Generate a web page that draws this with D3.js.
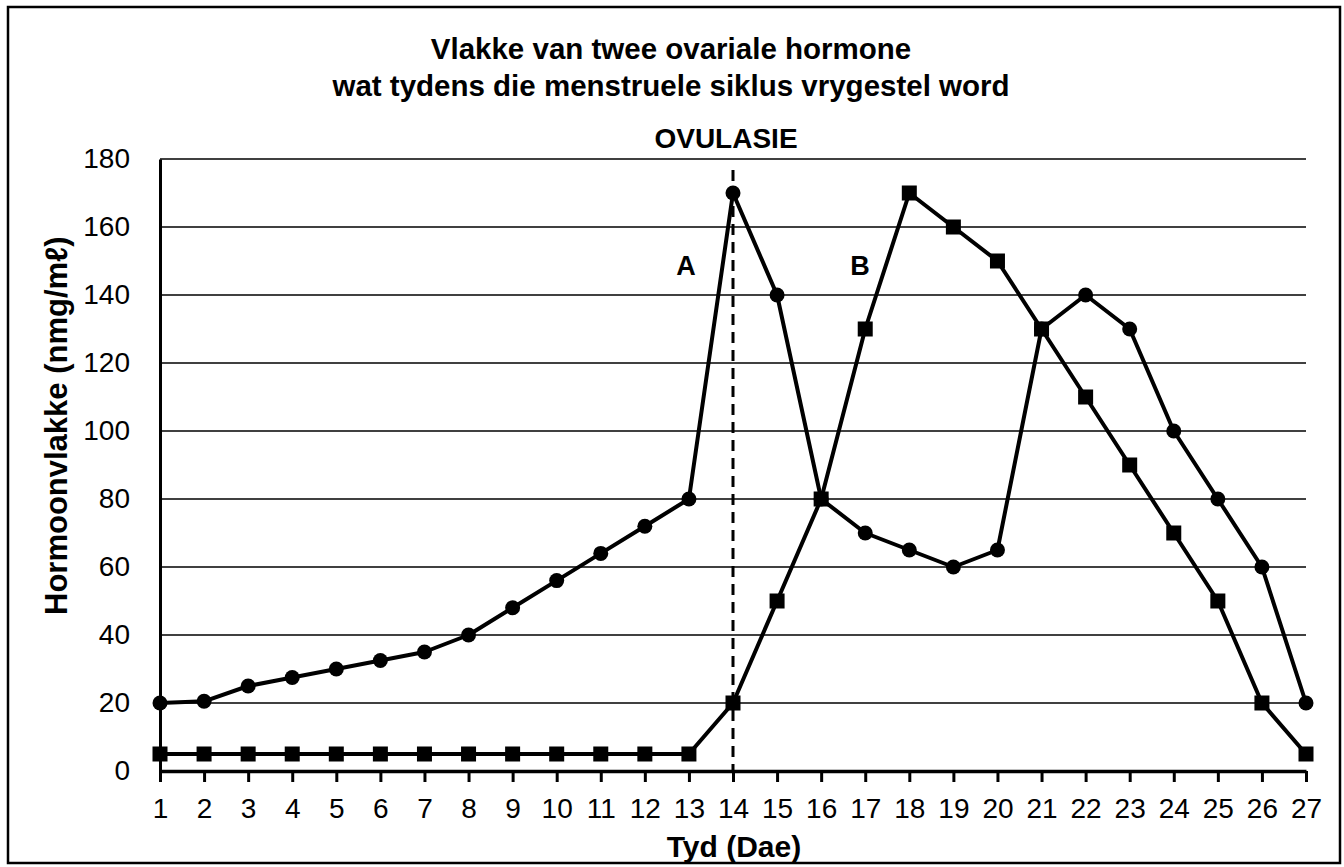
<!DOCTYPE html>
<html>
<head>
<meta charset="utf-8">
<script src="https://cdn.jsdelivr.net/npm/d3@7"></script>
<style>
  body { margin: 0; background: #fff; }
  text { font-family: "Liberation Sans", Arial, sans-serif; fill: #000; }
</style>
</head>
<body>
<svg id="chart" width="1344" height="867"></svg>
<script>
// days of the cycle
var days = d3.range(1, 28);
// hormone A (circles)
var hormoneA = [20, 20.5, 25, 27.5, 30, 32.5, 35, 40, 48, 56, 64, 72, 80, 170, 140, 80, 70, 65, 60, 65, 130, 140, 130, 100, 80, 60, 20];
// hormone B (squares)
var hormoneB = [5, 5, 5, 5, 5, 5, 5, 5, 5, 5, 5, 5, 5, 20, 50, 80, 130, 170, 160, 150, 130, 110, 90, 70, 50, 20, 5];
var yTicks = [0, 20, 40, 60, 80, 100, 120, 140, 160, 180];
var ovulationDay = 14;

var svg = d3.select("#chart");

var x = d3.scaleLinear().domain([1, 27]).range([160, 1306]);
var y = d3.scaleLinear().domain([0, 180]).range([771, 159]);

// outer frame
svg.append("rect")
    .attr("x", 8).attr("y", 7)
    .attr("width", 1332).attr("height", 856)
    .attr("fill", "none")
    .attr("stroke", "#000")
    .attr("stroke-width", 2.5);

// title
svg.append("text")
    .attr("x", 671).attr("y", 59)
    .attr("text-anchor", "middle")
    .attr("font-size", 29.5).attr("font-weight", "bold")
    .text("Vlakke van twee ovariale hormone");
svg.append("text")
    .attr("x", 671).attr("y", 96)
    .attr("text-anchor", "middle")
    .attr("font-size", 29.5).attr("font-weight", "bold")
    .text("wat tydens die menstruele siklus vrygestel word");

// gridlines
svg.append("g")
    .selectAll("line")
    .data(yTicks.filter(d => d > 0))
    .enter().append("line")
    .attr("x1", x(1)).attr("x2", x(27))
    .attr("y1", d => y(d)).attr("y2", d => y(d))
    .attr("stroke", "#000")
    .attr("stroke-width", 1.5);

// y axis
var yAxis = svg.append("g")
    .attr("transform", `translate(${x(1)},0)`)
    .call(d3.axisLeft(y).tickValues(yTicks).tickSize(0).tickPadding(30));
yAxis.select(".domain").attr("stroke", "#000").attr("stroke-width", 3);
yAxis.selectAll("text")
    .attr("font-size", 28)
    .attr("font-family", "Liberation Sans, Arial, sans-serif");

// x axis
var xAxis = svg.append("g")
    .attr("transform", `translate(0,${y(0)})`)
    .call(d3.axisBottom(x).tickValues(days).tickFormat(d3.format("d")).tickSizeInner(11).tickSizeOuter(0).tickPadding(16));
xAxis.select(".domain").attr("stroke", "#000").attr("stroke-width", 3.5);
xAxis.selectAll(".tick line").attr("stroke", "#000").attr("stroke-width", 3);
xAxis.selectAll("text")
    .attr("font-size", 28)
    .attr("font-family", "Liberation Sans, Arial, sans-serif");

// axis titles
svg.append("text")
    .attr("x", 734).attr("y", 857)
    .attr("text-anchor", "middle")
    .attr("font-size", 30).attr("font-weight", "bold")
    .text("Tyd (Dae)");
svg.append("text")
    .attr("transform", "translate(67,615) rotate(-90)")
    .attr("text-anchor", "start")
    .attr("font-size", 31).attr("font-weight", "bold")
    .text("Hormoonvlakke (nmg/m\u2113)");

// ovulation line
svg.append("line")
    .attr("x1", x(ovulationDay)).attr("x2", x(ovulationDay))
    .attr("y1", 170).attr("y2", y(0))
    .attr("stroke", "#000")
    .attr("stroke-width", 3)
    .attr("stroke-dasharray", "11,7");
svg.append("text")
    .attr("x", 726).attr("y", 148)
    .attr("text-anchor", "middle")
    .attr("font-size", 28).attr("font-weight", "bold")
    .text("OVULASIE");

// series
var line = d3.line().x((d, i) => x(days[i])).y(d => y(d));

svg.append("path")
    .datum(hormoneB)
    .attr("d", line)
    .attr("fill", "none")
    .attr("stroke", "#000")
    .attr("stroke-width", 4)
    .attr("stroke-linejoin", "round");
svg.append("path")
    .datum(hormoneA)
    .attr("d", line)
    .attr("fill", "none")
    .attr("stroke", "#000")
    .attr("stroke-width", 4)
    .attr("stroke-linejoin", "round");

svg.append("g")
    .selectAll("circle")
    .data(hormoneA)
    .enter().append("circle")
    .attr("cx", (d, i) => x(days[i]))
    .attr("cy", d => y(d))
    .attr("r", 7.5)
    .attr("fill", "#000");

svg.append("g")
    .selectAll("rect")
    .data(hormoneB)
    .enter().append("rect")
    .attr("x", (d, i) => x(days[i]) - 7.5)
    .attr("y", d => y(d) - 7.5)
    .attr("width", 15).attr("height", 15)
    .attr("fill", "#000");

// series labels
svg.append("text")
    .attr("x", 686).attr("y", 275)
    .attr("text-anchor", "middle")
    .attr("font-size", 27).attr("font-weight", "bold")
    .text("A");
svg.append("text")
    .attr("x", 860).attr("y", 275)
    .attr("text-anchor", "middle")
    .attr("font-size", 27).attr("font-weight", "bold")
    .text("B");
</script>
</body>
</html>
